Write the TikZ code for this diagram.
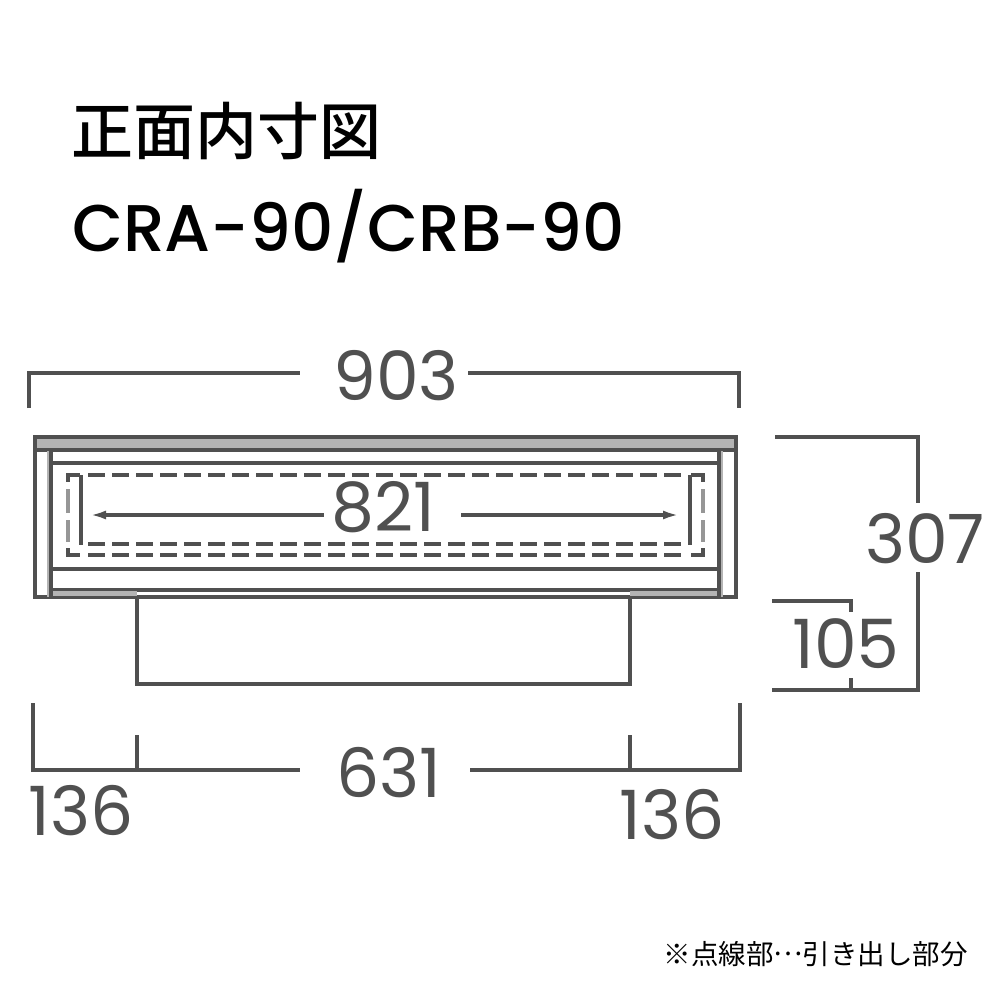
\documentclass[tikz,border=0pt]{standalone}
\usepackage{fontspec}
\setmainfont{Poppins}
\newfontfamily\cjk{Noto Sans CJK JP}
\newfontfamily\cjkm{Noto Sans CJK JP Medium}
\definecolor{ink}{HTML}{505050}
\definecolor{midg}{HTML}{B4B4B4}
\tikzset{
  thinl/.style={draw=ink,line width=3.1pt},
  thickl/.style={draw=ink,line width=3.4pt},
  dim/.style={draw=ink,line width=3.2pt},
  dashl/.style={draw=ink,line width=3.1pt,dash pattern=on 17pt off 7pt},
  num/.style={text=ink,inner sep=0pt,font=\fontsize{68}{68}\selectfont},
  ttl/.style={text=black,inner sep=0pt,anchor=west},
  arr/.style={draw=ink,line width=3.1pt,-{Latex[length=16pt,width=9pt]}}
}
\usetikzlibrary{arrows.meta}
\begin{document}
\begin{tikzpicture}[x=1pt,y=-1pt]
\useasboundingbox (0,0) rectangle (1000,1000);
\fill[white] (0,0) rectangle (1000,1000);
% titles
\node[ttl,font=\cjkm\fontsize{62}{62}\selectfont] (t1) at (71,131) {正面内寸図};
\node[ttl,font=\fontsize{66}{66}\selectfont\fontspec{Poppins Medium}] (t2) at (72,226) {CRA-90/CRB-90};
% cabinet
\fill[midg] (37,439) rectangle (734,449);
\draw[thickl] (35,449) -- (35,437) -- (736,437) -- (736,597) -- (35,597) -- cycle;
\draw[thinl] (35,450) -- (736,450);
\draw[thinl] (51,463) -- (719,463);
\draw[thinl] (51,569) -- (719,569);
\draw[thinl] (51,590) -- (719,590);
\fill[midg] (51,591) rectangle (137,596);
\fill[midg] (630,591) rectangle (719,596);
\fill[midg] (47,451) rectangle (51,597);
\fill[midg] (719,451) rectangle (723,597);
\draw[thinl] (51,449) -- (51,597);
\draw[thinl] (719,449) -- (719,597);
% drawer dashes
\draw[dashl] (88,475) -- (682,475);
\draw[dashl] (88,544) -- (682,544);
\draw[dashl] (88,555) -- (682,555);
\draw[thinl] (81,475) -- (81,545);
\draw[thinl] (690,475) -- (690,545);
\draw[thinl] (80,475) -- (68,475) -- (68,482);
\draw[thinl] (68,548) -- (68,555) -- (80,555);
\draw[thinl] (691,475) -- (703,475) -- (703,482);
\draw[thinl] (703,548) -- (703,555) -- (691,555);
\draw[draw=midg!70!ink,line width=3.1pt,dash pattern=on 24pt off 7pt] (68,489) -- (68,542);
\draw[draw=midg!70!ink,line width=3.1pt,dash pattern=on 24pt off 7pt] (703,489) -- (703,542);
% base
\draw[thinl] (137,597) -- (137,684) -- (630,684) -- (630,597);
% 821
\node[num] (n821) at (383,507) {821};
\coordinate (al) at (90,515);
\coordinate (ar) at (679,515);
\draw[arr] (n821.west |- al) ++(-7,0) -- (al);
\draw[arr] (n821.east |- ar) ++(26,0) -- (ar);
% 903
\node[num] (n903) at (396,376) {903};
\draw[dim] (29,408) -- (29,373) -- (300,373);
\draw[dim] (468,373) -- (739,373) -- (739,408);
% 307 / 105
\node[num] (n307) at (925,539) {307};
\node[num] (n105) at (846,644) {105};
\draw[dim] (775,437) -- (918,437) -- (918,503);
\draw[dim] (918,572) -- (918,690) -- (772,690);
\draw[dim] (772,601) -- (851,601) -- (851,612);
\draw[dim] (851,678) -- (851,690);
% bottom
\node[num] (n631) at (389,773) {631};
\node[num] (n136a) at (81,811) {136};
\node[num] (n136b) at (672,815) {136};
\draw[dim] (33,703) -- (33,770) -- (300,770);
\draw[dim] (470,770) -- (740,770) -- (740,703);
\draw[dim] (137,735) -- (137,770);
\draw[dim] (630,735) -- (630,770);
% note
\node[text=black,inner sep=0pt,anchor=east,font=\cjk\fontsize{27.5}{27.5}\selectfont] (note) at (968,954) {※点線部\raisebox{0.32em}{…}引き出し部分};
\end{tikzpicture}
\end{document}
